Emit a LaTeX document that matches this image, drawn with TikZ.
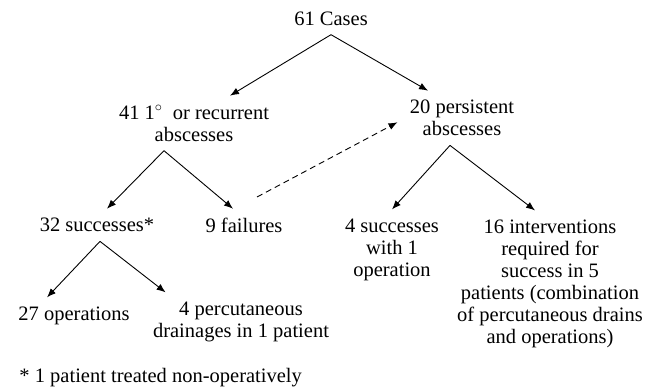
\documentclass[tikz,border=0pt]{standalone}
\usepackage{fontspec}
\setmainfont{Liberation Serif}
\usetikzlibrary{positioning,arrows.meta}

\begin{document}
\begin{tikzpicture}[txtnode/.style={align=center, inner xsep=4pt, inner ysep=9pt, font=\fontsize{20.5}{22}\selectfont},
                    >={Latex[length=9pt,width=7pt]}, line width=0.9pt]
    \useasboundingbox (0,0) rectangle (666pt,-391pt);
    % nodes
    \node[txtnode, anchor=north] (cases)   at (331pt,-2pt)                    {61 Cases};
    \node[txtnode]      (recur)   [below=61pt of cases, xshift=-137pt]   {41 1$^\circ$\ \ or recurrent\\abscesses};
    \node[txtnode]      (persist) [below=56pt of cases, xshift=131pt]    {20 persistent\\abscesses};
    \node[txtnode]      (succ)    [below=58pt of recur, xshift=-97pt]    {32 successes*};
    \node[txtnode]      (fail)    [below=58pt of recur, xshift=50pt]     {9 failures};
    \node[txtnode]      (succone) [below=64pt of persist, xshift=-70pt]  {4 successes\\with 1\\operation};
    \node[txtnode]      (interv)  [below=65pt of persist, xshift=88pt]   {16 interventions\\required for\\success in 5\\patients (combination\\of percutaneous drains\\and operations)};
    \node[txtnode]      (ops)     [below=56pt of succ, xshift=-23pt]     {27 operations};
    \node[txtnode]      (perc)    [below=51pt of succ, xshift=144pt]     {4 percutaneous\\drainages in 1 patient};
    \node[txtnode]      (note)    [below=25pt of ops.south west, anchor=north west, xshift=1pt] {* 1 patient treated non-operatively};
    % lines
    \draw[->] (cases.south) -- ([xshift=36pt]recur.north);
    \draw[->] (cases.south) -- ([xshift=-34pt]persist.north);
    \draw[->] ([xshift=-30pt]recur.south) -- ([xshift=10pt]succ.north);
    \draw[->] ([xshift=-30pt]recur.south) -- ([xshift=-11pt]fail.north);
    \draw[->] ([xshift=-12pt]persist.south) -- (succone.north);
    \draw[->] ([xshift=-12pt]persist.south) -- ([xshift=-15pt]interv.north);
    \draw[->] ([xshift=3pt]succ.south) -- ([xshift=-27pt]ops.north);
    \draw[->] ([xshift=3pt]succ.south) -- ([xshift=17pt]perc.north west);
    \draw[->, dash pattern=on 6pt off 4pt, shorten <=25pt, shorten >=9pt] ([xshift=-9pt]fail.north) -- (persist.west);
\end{tikzpicture}
\end{document}
